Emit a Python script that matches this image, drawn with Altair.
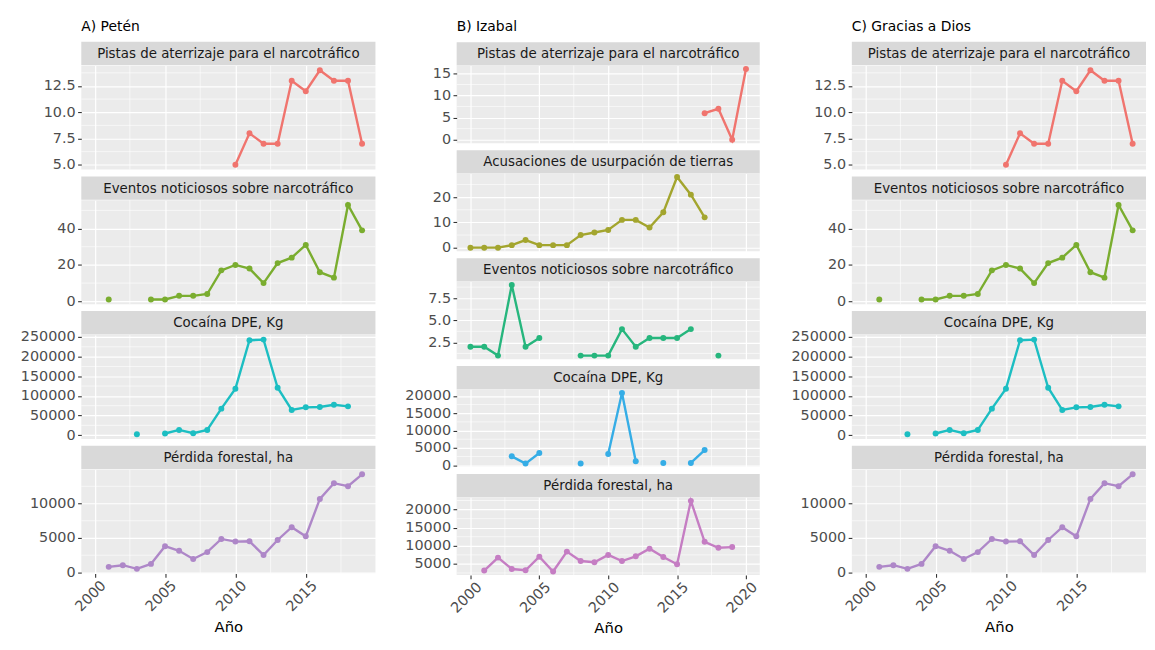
import altair as alt
import pandas as pd

FONT = "DejaVu Sans"

# ---------------- Data ----------------
# A) Petén
peten_pistas_years = [2010, 2011, 2012, 2013, 2014, 2015, 2016, 2017, 2018, 2019]
peten_pistas = [5, 8, 7, 7, 13, 12, 14, 13, 13, 7]
peten_eventos_years = [2001, 2004, 2005, 2006, 2007, 2008, 2009, 2010, 2011, 2012,
                       2013, 2014, 2015, 2016, 2017, 2018, 2019]
peten_eventos = [1, 1, 1, 3, 3, 4, 17, 20, 18, 10, 21, 24, 31, 16, 13, 53, 39]
peten_cocaina_years = [2003, 2005, 2006, 2007, 2008, 2009, 2010, 2011, 2012, 2013,
                       2014, 2015, 2016, 2017, 2018]
peten_cocaina = [2500, 4200, 13300, 5000, 13300, 67500, 118300, 241700, 243300,
                 120800, 64200, 70800, 71700, 77500, 73300]
peten_perdida_years = list(range(2001, 2020))
peten_perdida = [810, 1050, 520, 1240, 3810, 3140, 1950, 2950, 4860, 4480, 4520,
                 2520, 4710, 6570, 5240, 10670, 12950, 12520, 14240]

# B) Izabal
izabal_pistas_years = [2017, 2018, 2019, 2020]
izabal_pistas = [6, 7, 0, 16]
izabal_acus_years = list(range(2000, 2018))
izabal_acus = [0, 0, 0, 1, 3, 1, 1, 1, 5, 6, 7, 11, 11, 8, 14, 28, 21, 12]
izabal_eventos_years = [2000, 2001, 2002, 2003, 2004, 2005, 2008, 2009, 2010, 2011,
                        2012, 2013, 2014, 2015, 2016, 2018]
izabal_eventos = [2, 2, 1, 9, 2, 3, 1, 1, 1, 4, 2, 3, 3, 3, 4, 1]
izabal_cocaina_years = [2003, 2004, 2005, 2008, 2010, 2011, 2012, 2014, 2016, 2017]
izabal_cocaina = [2570, 480, 3520, 480, 3240, 20860, 1140, 670, 670, 4380]
izabal_perdida_years = list(range(2001, 2020))
izabal_perdida = [3170, 6740, 3600, 3250, 7000, 2900, 8400, 5800, 5450, 7480, 5800,
                  7100, 9200, 6900, 4900, 22400, 11100, 9450, 9650]

# C) Gracias a Dios (same series as shown in the figure)
gad_pistas_years, gad_pistas = peten_pistas_years, peten_pistas
gad_eventos_years, gad_eventos = peten_eventos_years, peten_eventos
gad_cocaina_years, gad_cocaina = peten_cocaina_years, peten_cocaina
gad_perdida_years, gad_perdida = peten_perdida_years, peten_perdida

# strip labels
T_PISTAS = "Pistas de aterrizaje para el narcotráfico"
T_EVENTOS = "Eventos noticiosos sobre narcotráfico"
T_COCA = "Cocaína DPE, Kg"
T_PERD = "Pérdida forestal, ha"
T_ACUS = "Acusaciones de usurpación de tierras"

# tick values
ticks_pistas_a = [5, 7.5, 10, 12.5]
ticks_eventos_a = [0, 20, 40]
ticks_coca_a = [0, 50000, 100000, 150000, 200000, 250000]
ticks_perd_a = [0, 5000, 10000]
ticks_pistas_b = [0, 5, 10, 15]
ticks_acus_b = [0, 10, 20]
ticks_eventos_b = [2.5, 5.0, 7.5]
ticks_coca_b = [0, 5000, 10000, 15000, 20000]
ticks_perd_b = [5000, 10000, 15000, 20000]

x_ticks_a = [2000, 2005, 2010, 2015]
x_ticks_b = [2000, 2005, 2010, 2015, 2020]
x_limits_a = [2000, 2019]
x_limits_b = [2000, 2020]

# colours
RED = "#F0746E"
GREEN_A = "#7AAD2F"
CYAN = "#1CBEC2"
PURPLE_A = "#AE87C8"
OLIVE = "#A3A52E"
GREEN_B = "#26B67D"
BLUE_B = "#35ADE6"
PINK_B = "#C57DC3"

COL_A = [
    (T_PISTAS, peten_pistas_years, peten_pistas, RED, ticks_pistas_a, ".1f"),
    (T_EVENTOS, peten_eventos_years, peten_eventos, GREEN_A, ticks_eventos_a, "d"),
    (T_COCA, peten_cocaina_years, peten_cocaina, CYAN, ticks_coca_a, "d"),
    (T_PERD, peten_perdida_years, peten_perdida, PURPLE_A, ticks_perd_a, "d"),
]
COL_B = [
    (T_PISTAS, izabal_pistas_years, izabal_pistas, RED, ticks_pistas_b, "d"),
    (T_ACUS, izabal_acus_years, izabal_acus, OLIVE, ticks_acus_b, "d"),
    (T_EVENTOS, izabal_eventos_years, izabal_eventos, GREEN_B, ticks_eventos_b, ".1f"),
    (T_COCA, izabal_cocaina_years, izabal_cocaina, BLUE_B, ticks_coca_b, "d"),
    (T_PERD, izabal_perdida_years, izabal_perdida, PINK_B, ticks_perd_b, "d"),
]
COL_C = [
    (T_PISTAS, gad_pistas_years, gad_pistas, RED, ticks_pistas_a, ".1f"),
    (T_EVENTOS, gad_eventos_years, gad_eventos, GREEN_A, ticks_eventos_a, "d"),
    (T_COCA, gad_cocaina_years, gad_cocaina, CYAN, ticks_coca_a, "d"),
    (T_PERD, gad_perdida_years, gad_perdida, PURPLE_A, ticks_perd_a, "d"),
]

STRIP_H = 23.5
PANEL_BG = "#EBEBEB"
STRIP_BG = "#D9D9D9"


def expand(lo, hi, f=0.05):
    s = hi - lo
    return [lo - f * s, hi + f * s]


def minors(ticks, dom):
    step = ticks[1] - ticks[0]
    cands = [ticks[0] - step / 2] + [t + step / 2 for t in ticks]
    return [c for c in cands if dom[0] <= c <= dom[1] and c not in ticks]


def make_strip(title, W, gap):
    base = alt.Chart(pd.DataFrame({"t": [title]}))
    rect = base.mark_rect(color=STRIP_BG).encode(
        x=alt.value(0), x2=alt.value(W), y=alt.value(gap), y2=alt.value(gap + STRIP_H))
    txt = base.mark_text(
        font=FONT, fontSize=13.5, color="#1A1A1A", align="center", baseline="middle"
    ).encode(text="t:N", x=alt.value(W / 2), y=alt.value(gap + STRIP_H / 2 + 0.5))
    return alt.layer(rect, txt).properties(width=W, height=gap + STRIP_H)


def make_plot(spec, x_ticks, x_limits, bottom, W, H):
    title, years, values, color, yticks, fmt = spec
    seg = [0]
    for i in range(1, len(years)):
        seg.append(seg[-1] + (0 if years[i] - years[i - 1] == 1 else 1))
    df = pd.DataFrame({"year": years, "value": values, "seg": seg})

    xdom = expand(*x_limits)
    ydom = expand(min(values), max(values))

    if bottom:
        xaxis = alt.Axis(values=x_ticks, format="d", labelAngle=-45, labelAlign="right",
                         labelBaseline="top", title="Año", grid=True, domain=False,
                         ticks=True, labelPadding=1, titlePadding=6, labelOffset=4)
    else:
        xaxis = alt.Axis(values=x_ticks, labels=False, ticks=False, domain=False,
                         title=None, grid=True)
    yaxis = alt.Axis(values=yticks, format=fmt, title=None, grid=True, domain=False)

    x_enc = alt.X("year:Q", scale=alt.Scale(domain=xdom, nice=False, zero=False), axis=xaxis)
    y_enc = alt.Y("value:Q", scale=alt.Scale(domain=ydom, nice=False, zero=False), axis=yaxis)

    mx = alt.Chart(pd.DataFrame({"year": minors(x_ticks, xdom)})).mark_rule(
        color="white", strokeWidth=0.6).encode(x=x_enc)
    my = alt.Chart(pd.DataFrame({"value": minors(yticks, ydom)})).mark_rule(
        color="white", strokeWidth=0.6).encode(y=y_enc)
    line = alt.Chart(df).mark_line(color=color, strokeWidth=2.4).encode(
        x=x_enc, y=y_enc, detail="seg:N")
    pts = alt.Chart(df).mark_circle(color=color, size=36, opacity=1).encode(x=x_enc, y=y_enc)

    return alt.layer(mx, my, line, pts).properties(
        width=W, height=H, view=alt.ViewBackground(fill=PANEL_BG, stroke=None))


def make_column(label, specs, x_ticks, x_limits, W, H, gap):
    header = alt.Chart(pd.DataFrame({"t": [label]})).mark_text(
        font=FONT, fontSize=14, color="black", align="left", baseline="alphabetic"
    ).encode(text="t:N", x=alt.value(0), y=alt.value(12.5)).properties(
        width=W, height=23 - gap)
    items = [header]
    for i, s in enumerate(specs):
        items.append(make_strip(s[0], W, gap))
        items.append(make_plot(s, x_ticks, x_limits, i == len(specs) - 1, W, H))
    return alt.vconcat(*items, spacing=0, bounds="flush")


colA = make_column("A) Petén", COL_A, x_ticks_a, x_limits_a, 297, 105, 7)
colB = make_column("B) Izabal", COL_B, x_ticks_b, x_limits_b, 306, 78.5, 6.5)
colC = make_column("C) Gracias a Dios", COL_C, x_ticks_a, x_limits_a, 297, 105, 7)

chart = alt.hconcat(
    alt.hconcat(colA, colB, spacing=28), colC, spacing=30
).properties(
    padding={"left": 12, "top": 8, "right": 0, "bottom": 0}
).configure_view(stroke=None).configure_axis(
    labelFont=FONT, labelFontSize=14.5, labelColor="#4D4D4D",
    tickColor="#333333", tickSize=3.7, tickWidth=1.1,
    gridColor="white", gridWidth=1.2, labelPadding=2.5,
    titleFont=FONT, titleFontSize=15, titleFontWeight="normal", titleColor="black"
)

chart.save("out.html", embed_options={"renderer": "svg", "actions": False})
